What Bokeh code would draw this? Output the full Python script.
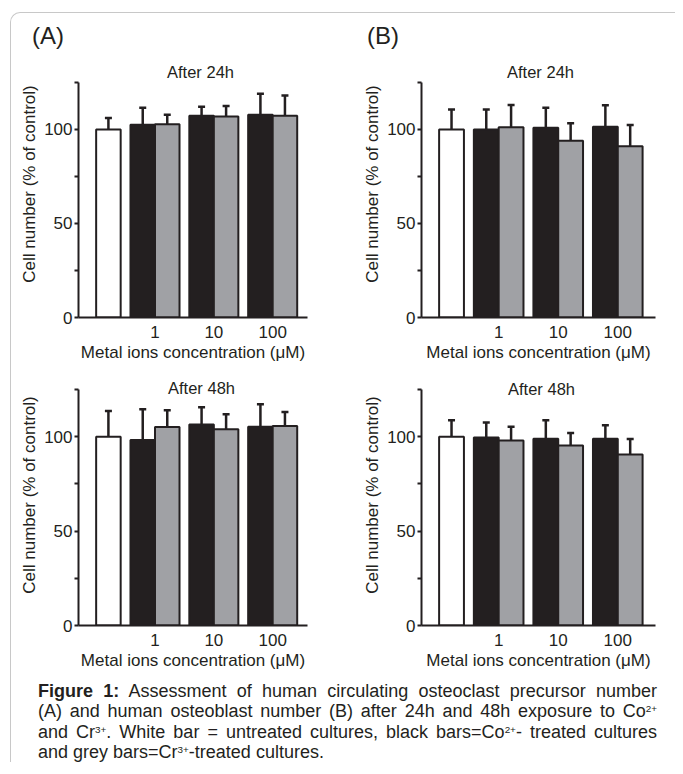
from bokeh.plotting import figure
from bokeh.models import (Range1d, FixedTicker, Whisker, TeeHead, ColumnDataSource,
                          Label, Div, InlineStyleSheet)
from bokeh.layouts import row, column
from bokeh.embed import file_html
from bokeh.resources import INLINE

# ---------------- data ----------------
conc_labels = ["1", "10", "100"]
y_ticks = [0, 25, 50, 75, 100, 125]
y_tick_labels = ["0", "", "50", "", "100", ""]

# (A) osteoclast precursors, after 24h
A24_ctrl, A24_ctrl_err = 100.0, 6.0
A24_co = [102.5, 107.3, 107.8]
A24_co_err = [9.0, 4.7, 11.2]
A24_cr = [102.8, 106.8, 107.3]
A24_cr_err = [5.0, 5.6, 10.7]

# (B) osteoblasts, after 24h
B24_ctrl, B24_ctrl_err = 100.0, 10.6
B24_co = [100.0, 100.9, 101.4]
B24_co_err = [10.6, 10.6, 11.4]
B24_cr = [101.2, 94.0, 91.0]
B24_cr_err = [11.8, 9.3, 11.3]

# (A) after 48h
A48_ctrl, A48_ctrl_err = 100.0, 13.6
A48_co = [98.2, 106.4, 105.3]
A48_co_err = [16.3, 9.2, 11.9]
A48_cr = [105.1, 104.0, 105.7]
A48_cr_err = [8.9, 7.9, 7.4]

# (B) after 48h
B48_ctrl, B48_ctrl_err = 100.0, 8.7
B48_co = [99.6, 98.9, 98.9]
B48_co_err = [7.9, 9.8, 7.1]
B48_cr = [98.0, 95.4, 90.6]
B48_cr_err = [7.3, 6.6, 8.2]

# ---------------- style ----------------
INK = "#231f20"
GREY = "#a0a1a5"
FONT = "Liberation Sans"
AXIS_TOP = 125
PX_PER_UNIT = 236 / 125  # axis 0..125 spans 236 px


def panel(ctrl, ctrl_err, co, co_err, cr, cr_err, title,
          width, bl, br, head, bb, xr, title_dx, title_dy):
    frame_h = 236 + head
    p = figure(width=width, height=frame_h + bb, output_backend="svg", toolbar_location=None,
               x_range=Range1d(*xr), y_range=Range1d(0, AXIS_TOP + head / PX_PER_UNIT),
               min_border_left=bl, min_border_right=br, min_border_top=0,
               min_border_bottom=bb)
    p.outline_line_color = None
    p.xgrid.visible = False
    p.ygrid.visible = False
    p.background_fill_color = "white"
    p.border_fill_color = None

    n = len(co)
    x_ctrl = [0.0]
    x_co = [1.4 + 2.4 * i for i in range(n)]
    x_cr = [2.4 + 2.4 * i for i in range(n)]
    x_grp = [1.9 + 2.4 * i for i in range(n)]

    for xs, tops, errs, fill in ((x_ctrl, [ctrl], [ctrl_err], "white"),
                                 (x_co, co, co_err, INK),
                                 (x_cr, cr, cr_err, GREY)):
        src = ColumnDataSource(dict(x=xs, top=tops,
                                    up=[t + e for t, e in zip(tops, errs)]))
        w = Whisker(base="x", lower="top", upper="up", source=src, dimension="height",
                    line_color=INK, line_width=2.5, lower_head=None,
                    upper_head=TeeHead(size=7, line_color=INK, line_width=2.5))
        p.add_layout(w)
        p.vbar(x="x", top="top", bottom=0, width=1.0, source=src,
               fill_color=fill, line_color=INK, line_width=2)

    # axes
    p.yaxis.bounds = (0, AXIS_TOP)
    p.yaxis.ticker = FixedTicker(ticks=y_ticks)
    p.yaxis.major_label_overrides = {t: l for t, l in zip(y_ticks, y_tick_labels)}
    p.yaxis.minor_tick_line_color = None
    p.yaxis.major_tick_in = 0
    p.yaxis.major_tick_out = 4
    p.yaxis.major_tick_line_color = INK
    p.yaxis.major_tick_line_width = 2
    p.yaxis.major_label_standoff = 2
    p.yaxis.axis_label = "Cell number (% of control)"
    p.yaxis.axis_label_standoff = 2

    p.xaxis.ticker = FixedTicker(ticks=x_grp)
    p.xaxis.major_label_overrides = {t: l for t, l in zip(x_grp, conc_labels)}
    p.xaxis.minor_tick_line_color = None
    p.xaxis.major_tick_line_color = None
    p.xaxis.major_tick_in = 0
    p.xaxis.major_tick_out = 0
    p.xaxis.major_label_standoff = 8
    p.xaxis.axis_label = "Metal ions concentration (\u03bcM)"
    p.xaxis.axis_label_standoff = 2

    for ax in (p.xaxis, p.yaxis):
        ax.axis_line_color = INK
        ax.axis_line_width = 2
        ax.major_label_text_font = FONT
        ax.major_label_text_font_size = "17px"
        ax.major_label_text_color = INK
        ax.axis_label_text_font = FONT
        ax.axis_label_text_font_size = "17px"
        ax.axis_label_text_font_style = "normal"
        ax.axis_label_text_color = INK

    p.add_layout(Label(x=xr[0], y=AXIS_TOP, x_offset=title_dx, y_offset=title_dy, text=title,
                       text_align="center", text_baseline="middle", text_font=FONT,
                       text_font_size="16.5px", text_color=INK))
    return p


XR_L = (-1.22, 8.12)
XR_R = (-1.21, 8.22)

pA24 = panel(A24_ctrl, A24_ctrl_err, A24_co, A24_co_err, A24_cr, A24_cr_err,
             "After 24h", 339, 67, 43, 32, 46, XR_L, 122, 10)
pB24 = panel(B24_ctrl, B24_ctrl_err, B24_co, B24_co_err, B24_cr, B24_cr_err,
             "After 24h", 325, 71, 20, 32, 46, XR_R, 119, 10)
pA48 = panel(A48_ctrl, A48_ctrl_err, A48_co, A48_co_err, A48_cr, A48_cr_err,
             "After 48h", 339, 67, 43, 25, 47, XR_L, 123, 1.5)
pB48 = panel(B48_ctrl, B48_ctrl_err, B48_co, B48_co_err, B48_cr, B48_cr_err,
             "After 48h", 325, 71, 20, 25, 47, XR_R, 120, 1)

header_html = (
    '<div style="position:relative;width:664px;height:37px;font-family:\'Liberation Sans\',Arial,'
    'sans-serif;font-size:24px;line-height:24px;color:#231f20;">'
    '<span style="position:absolute;left:21px;top:11px;">(A)</span>'
    '<span style="position:absolute;left:356px;top:11px;">(B)</span>'
    '</div>'
)
header = Div(text=header_html, width=664, height=37, margin=0)

line_style = "text-align:justify;text-align-last:justify;white-space:nowrap;"
sup = '<sup style="font-size:55%;line-height:0;vertical-align:0.55em;">'
caption_html = (
    '<div style="font-family:\'Liberation Sans\',Arial,sans-serif;font-size:18px;'
    'line-height:20.5px;color:#231f20;width:619px;margin-left:27px;padding-top:8.75px;">'
    f'<div style="{line_style}"><b>Figure 1:</b> Assessment of human circulating osteoclast precursor number</div>'
    f'<div style="{line_style}">(A) and human osteoblast number (B) after 24h and 48h exposure to Co{sup}2+</sup></div>'
    f'<div style="{line_style}">and Cr{sup}3+</sup>. White bar = untreated cultures, black bars=Co{sup}2+</sup>- treated cultures</div>'
    f'<div>and grey bars=Cr{sup}3+</sup>-treated cultures.</div>'
    '</div>'
)
caption = Div(text=caption_html, width=664, height=90, margin=0)

frame_css = InlineStyleSheet(css=":host { border-top: 1px solid #c8c8c8; "
                                 "border-left: 1px solid #c8c8c8; "
                                 "border-top-left-radius: 10px; }")

layout = column(header, row(pA24, pB24), row(pA48, pB48), caption,
                margin=(12, 0, 0, 10), stylesheets=[frame_css])

open("out.html", "w").write(file_html(layout, INLINE))
